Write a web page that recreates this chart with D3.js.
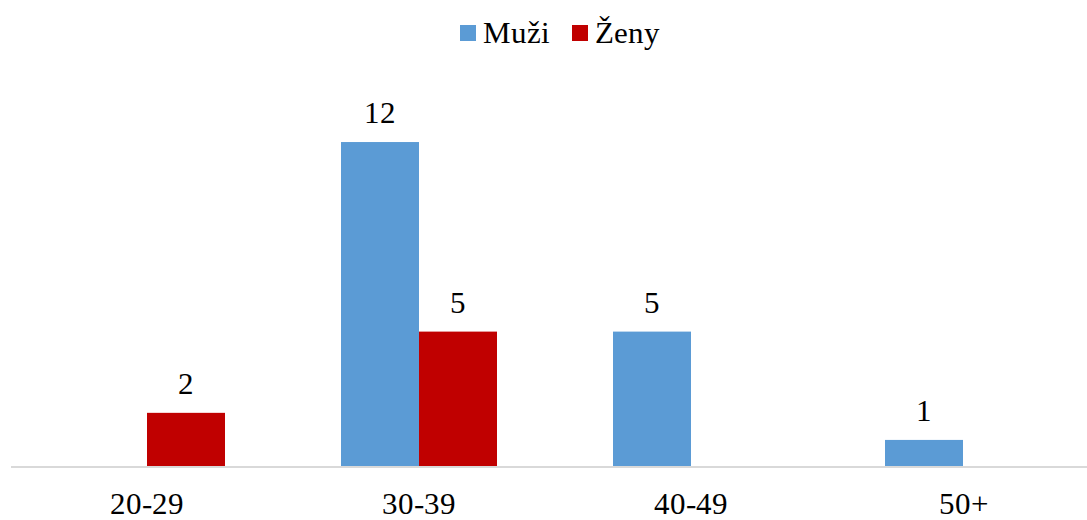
<!DOCTYPE html>
<html><head><meta charset="utf-8">
<style>
  @font-face { font-family: 'ChartSerif'; src: local('Liberation Serif'), local('LiberationSerif'), local('Tinos'), local('FreeSerif'); }
  svg text { font-family: 'ChartSerif', Tinos, 'Liberation Serif', FreeSerif, serif; }
</style>
</head>
<body style="margin:0">
<script src="https://cdnjs.cloudflare.com/ajax/libs/d3/7.8.5/d3.min.js"></script>
<script>

    // data
    var categories = ['20-29', '30-39', '40-49', '50+'];
    var seriesNames = ['Muži', 'Ženy'];
    var muzi = [0, 12, 5, 1];
    var zeny = [2, 5, 0, 0];

    var colors = {'Muži': '#5b9bd5', 'Ženy': '#c00000'};
    var fontFam = "'ChartSerif', Tinos, 'Liberation Serif', FreeSerif, serif";

    var width = 1087;
    var height = 520;

    var viz = d3.select('body')
                .append('svg')
                .attr('width', width)
                .attr('height', height);

    var rows = categories.map(function(c, i) {
      return {cat: c, values: [{key: 'Muži', v: muzi[i]}, {key: 'Ženy', v: zeny[i]}]};
    });

    var x0 = d3.scaleBand()
               .domain(categories)
               .range([11, 1099])
               .paddingInner(0.4265)
               .paddingOuter(0.4265 / 2);

    var x1 = d3.scaleBand()
               .domain(seriesNames)
               .range([0, x0.bandwidth()]);

    var y = d3.scaleLinear()
              .domain([0, 14])
              .range([467, 467 - 14 * 27.08]);

    var nonZero = [];
    rows.forEach(function(r) {
      r.values.forEach(function(v) {
        if (v.v > 0) nonZero.push({cat: r.cat, key: v.key, v: v.v});
      });
    });
    var barX = function(d) { return x0(d.cat) + x1(d.key); };

    // bars
    viz.selectAll('rect.bar')
       .data(nonZero)
       .enter()
       .append('rect')
       .attr('class', 'bar')
       .attr('x', barX)
       .attr('width', x1.bandwidth())
       .attr('y', function(d) { return y(d.v); })
       .attr('height', function(d) { return y(0) - y(d.v); })
       .style('fill', function(d) { return colors[d.key]; });

    // value labels
    viz.selectAll('text.lbl')
       .data(nonZero)
       .enter()
       .append('text')
       .attr('class', 'lbl')
       .attr('x', function(d) { return barX(d) + x1.bandwidth() / 2; })
       .attr('y', function(d) { return y(d.v) - 19; })
       .attr('font-family', fontFam)
       .style('text-anchor', 'middle')
       .style('font-family', fontFam)
       .style('font-size', '31px')
       .text(function(d) { return d.v; });

    // category axis
    viz.append('line')
       .attr('x1', x0.range()[0])
       .attr('x2', width)
       .attr('y1', y(0))
       .attr('y2', y(0))
       .style('stroke', '#d9d9d9')
       .style('stroke-width', 2);

    viz.selectAll('text.cat')
       .data(categories)
       .enter()
       .append('text')
       .attr('class', 'cat')
       .attr('x', function(d) { return x0(d) + x0.bandwidth() / 2; })
       .attr('y', 514)
       .attr('font-family', fontFam)
       .style('text-anchor', 'middle')
       .style('font-family', fontFam)
       .style('font-size', '31px')
       .text(function(d) { return d; });

    // legend
    var legendX = [460, 572];
    viz.selectAll('rect.key')
       .data(seriesNames)
       .enter()
       .append('rect')
       .attr('class', 'key')
       .attr('x', function(d, i) { return legendX[i]; })
       .attr('y', 25)
       .attr('width', 16)
       .attr('height', 16)
       .style('fill', function(d) { return colors[d]; });
    viz.selectAll('text.key')
       .data(seriesNames)
       .enter()
       .append('text')
       .attr('class', 'key')
       .attr('x', function(d, i) { return legendX[i] + 23; })
       .attr('y', 43)
       .attr('font-family', fontFam)
       .style('font-family', fontFam)
       .style('font-size', '31px')
       .text(function(d) { return d; });

</script>
</body></html>
